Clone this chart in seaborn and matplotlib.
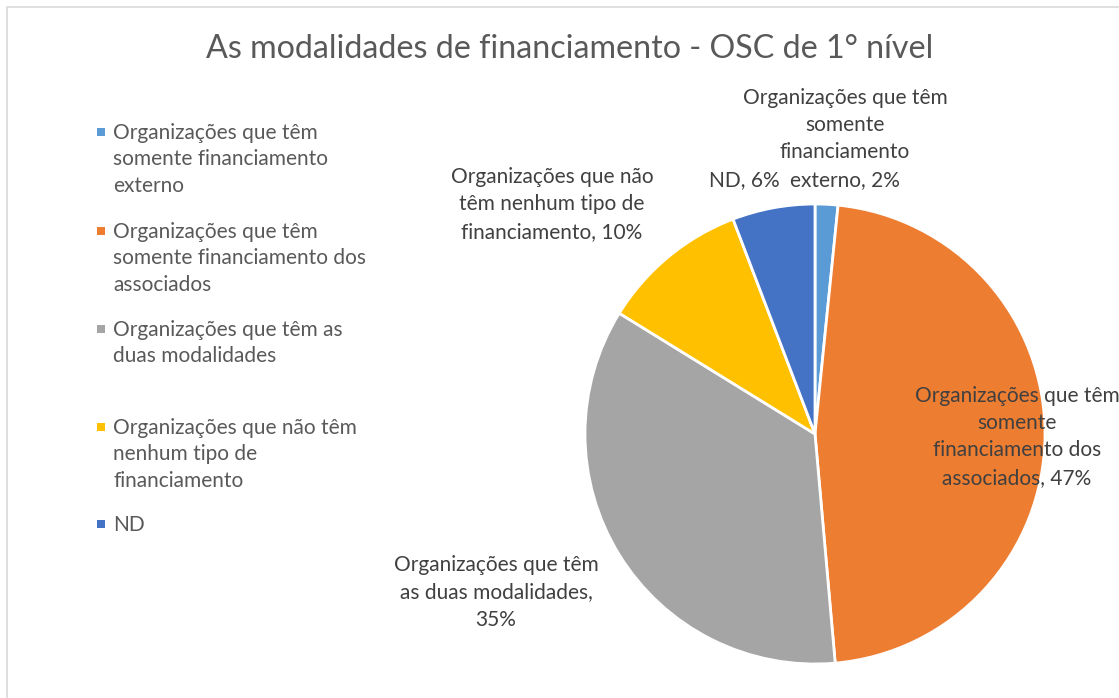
import matplotlib
matplotlib.use("Agg")
import matplotlib.pyplot as plt
import seaborn as sns
from matplotlib.patches import Rectangle

# dados (percentuais)
categorias = [
    "Organizações que têm\nsomente financiamento\nexterno",
    "Organizações que têm\nsomente financiamento dos\nassociados",
    "Organizações que têm as\nduas modalidades",
    "Organizações que não têm\nnenhum tipo de\nfinanciamento",
    "ND",
]
rotulos = [
    "Organizações que têm\nsomente\nfinanciamento\nexterno",
    "Organizações que têm\nsomente\nfinanciamento dos\nassociados",
    "Organizações que têm\nas duas modalidades,\n",
    "Organizações que não\ntêm nenhum tipo de\nfinanciamento",
    "ND",
]
valores = [1.6, 47.0, 35.2, 10.4, 5.8]
cores = ["#5B9BD5", "#ED7D31", "#A5A5A5", "#FFC000", "#4472C4"]

sns.set_theme(style="white")
plt.rcParams["font.family"] = ["Lato", "DejaVu Sans"]

W, H = 1119, 698
fig = plt.figure(figsize=(W / 100, H / 100), dpi=100)

def fx(x):
    return x / W

def fy(y):
    return 1 - y / H

# borda do gráfico
fig.patches.append(Rectangle((fx(7), fy(H + 20)), 1.2, fy(7) - fy(H + 20),
                             transform=fig.transFigure, fill=False,
                             edgecolor="#D9D9D9", linewidth=1.2))

fig.text(fx(570), fy(49), "As modalidades de financiamento - OSC de 1° nível",
         ha="center", va="center", fontsize=23.2, color="#595959")

# pizza
cx, cy, r = 815, 434, 230
ax = fig.add_axes([fx(cx - r), fy(cy + r), 2 * r / W, 2 * r / H])
ax.pie(valores, colors=cores, startangle=90, counterclock=False,
       wedgeprops=dict(edgecolor="white", linewidth=2))
ax.set_xlim(-1.0, 1.0)
ax.set_ylim(-1.0, 1.0)
ax.set_aspect("equal")
ax.axis("off")

fs = 15.0
ls = 1.4
pitch = 27.5

# rótulos de dados (posição da última linha de cada rótulo)
pos_rotulos = [(845, 180), (1017, 478), (496, 620), (552, 232), (744, 180)]
for i, (txt, v) in enumerate(zip(rotulos, valores)):
    pct = f"{v:.0f}%"
    if txt.endswith("\n"):
        s = txt + pct
    else:
        s = txt + ", " + pct
    linhas = s.split("\n")
    x, y = pos_rotulos[i]
    n = len(linhas)
    # cada linha como um texto centrado
    for k, linha in enumerate(linhas):
        fig.text(fx(x), fy(y - (n - 1 - k) * pitch), linha, ha="center",
                 va="center", fontsize=fs, color="#404040")

# legenda
leg_y = [132, 231, 329, 427, 524]
for cat, cor, y in zip(categorias, cores, leg_y):
    fig.patches.append(Rectangle((fx(97), fy(y + 4)), 8 / W, 8 / H,
                                 transform=fig.transFigure, facecolor=cor,
                                 edgecolor="none"))
    fig.text(fx(113), fy(y - 9), cat, ha="left", va="top", fontsize=fs,
             color="#595959", linespacing=ls,
             transform=fig.transFigure)

fig.savefig("out.png", dpi=100)
